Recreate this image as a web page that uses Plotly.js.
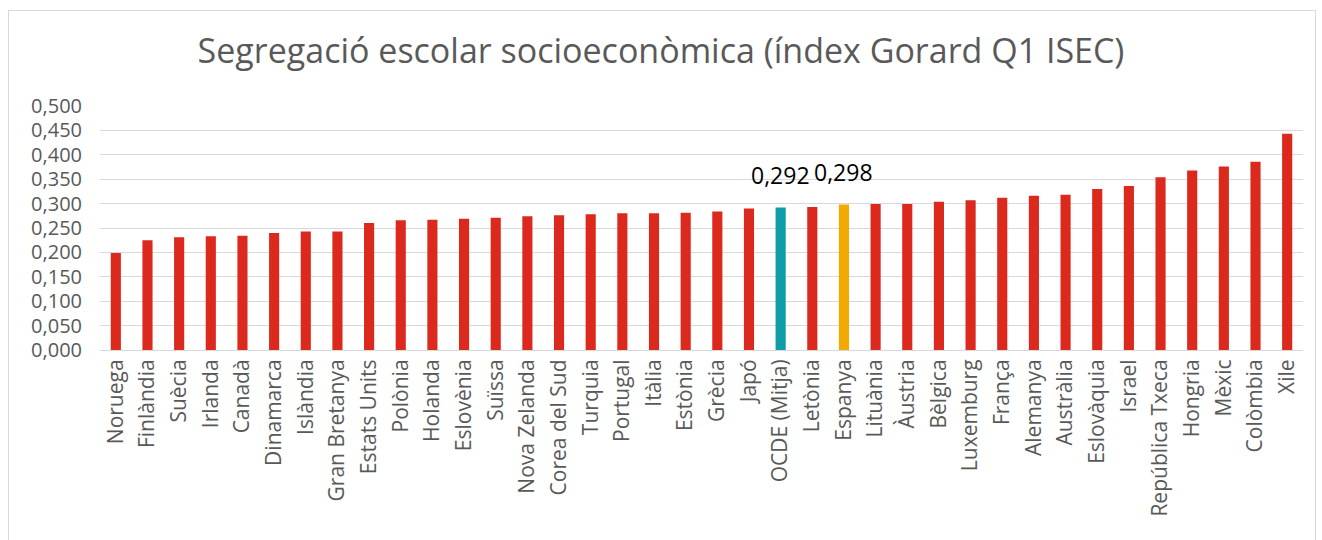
<!DOCTYPE html>
<html>
<head>
<meta charset="utf-8">
<script src="https://cdn.plot.ly/plotly-3.0.1.min.js"></script>
<style>
  body { margin: 0; background: #fff; }
  #graph { position: absolute; left: 0; top: 0; width: 1322px; height: 540px; }
  #frame { position: absolute; left: 8px; top: 10px; width: 1306px; height: 540px;
           border: 1px solid #d9d9d9; pointer-events: none; }
</style>
</head>
<body>
<div id="graph"></div>
<div id="frame"></div>
<script>
const paisos = ['Noruega', 'Finlàndia', 'Suècia', 'Irlanda', 'Canadà', 'Dinamarca', 'Islàndia',
  'Gran Bretanya', 'Estats Units', 'Polònia', 'Holanda', 'Eslovènia', 'Suïssa', 'Nova Zelanda',
  'Corea del Sud', 'Turquia', 'Portugal', 'Itàlia', 'Estònia', 'Grècia', 'Japó', 'OCDE (Mitja)',
  'Letònia', 'Espanya', 'Lituània', 'Àustria', 'Bèlgica', 'Luxemburg', 'França', 'Alemanya',
  'Austràlia', 'Eslovàquia', 'Israel', 'República Txeca', 'Hongria', 'Mèxic', 'Colòmbia', 'Xile'];

const gorard = [0.199, 0.225, 0.231, 0.233, 0.234, 0.240, 0.243,
  0.243, 0.260, 0.266, 0.267, 0.269, 0.271, 0.274,
  0.276, 0.278, 0.280, 0.280, 0.281, 0.284, 0.290, 0.292,
  0.293, 0.298, 0.299, 0.299, 0.304, 0.307, 0.312, 0.316,
  0.318, 0.330, 0.336, 0.354, 0.368, 0.376, 0.386, 0.443];

// only the OECD mean and Spain get a data label
const destacats = ['OCDE (Mitja)', 'Espanya'];

const colors = paisos.map(p => p === 'OCDE (Mitja)' ? '#0e9da6' : (p === 'Espanya' ? '#f2a900' : '#dc291e'));

const font = '"Open Sans", sans-serif';

const labels = destacats.map(p => {
  const v = gorard[paisos.indexOf(p)];
  return {
    x: p, y: v, xref: 'x', yref: 'y',
    text: v.toFixed(3).replace('.', ','),
    showarrow: false, yanchor: 'bottom', yshift: 15,
    font: { family: font, size: 23, color: '#000' }
  };
});

Plotly.newPlot('graph', [{
  type: 'bar',
  x: paisos,
  y: gorard,
  marker: { color: colors },
  hoverinfo: 'x+y'
}], {
  width: 1322,
  height: 540,
  separators: ',.',
  margin: { l: 100, r: 19, t: 106, b: 190 },
  paper_bgcolor: '#fff',
  plot_bgcolor: '#fff',
  bargap: 0.68,
  showlegend: false,
  annotations: labels,
  title: {
    text: 'Segregació escolar socioeconòmica (índex Gorard Q1 ISEC)',
    font: { family: font, size: 34, color: '#595959' },
    x: 0.5, xanchor: 'center', y: 0.905, yanchor: 'middle'
  },
  xaxis: {
    type: 'category',
    tickangle: -90,
    tickfont: { family: font, size: 21, color: '#595959' },
    showline: true, linecolor: '#d9d9d9', linewidth: 1,
    ticks: '', showgrid: false
  },
  yaxis: {
    range: [0, 0.5],
    dtick: 0.05,
    tickformat: '.3f',
    tickfont: { family: font, size: 20, color: '#595959' },
    ticklabelstandoff: 17,
    gridcolor: '#d9d9d9', gridwidth: 1,
    zeroline: false, showline: false, ticks: '', ticklen: 0,
    automargin: false
  }
}, { displayModeBar: false });
</script>
</body>
</html>
